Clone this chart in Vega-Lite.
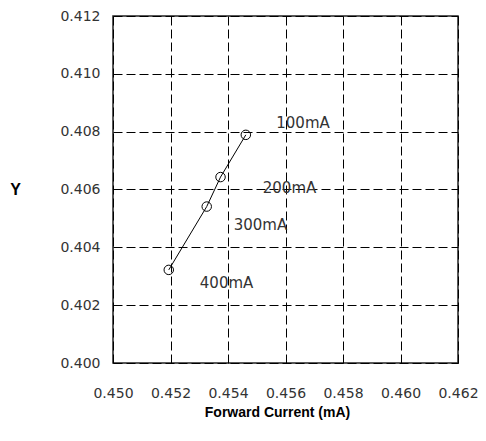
{
  "$schema": "https://vega.github.io/schema/vega-lite/v6.json",
  "width": 345,
  "height": 347,
  "autosize": {"type": "none"},
  "padding": {"left": 113, "top": 16, "right": 28, "bottom": 78},
  "background": "white",
  "config": {
    "view": {"stroke": "#222", "strokeWidth": 1.5},
    "axis": {
      "grid": true,
      "gridColor": "#000",
      "gridDash": [9, 4],
      "gridOpacity": 1,
      "gridWidth": 1,
      "domain": false,
      "ticks": false,
      "labelOverlap": false,
      "labelFlush": false,
      "labelFont": "DejaVu Sans",
      "labelFontSize": 14,
      "labelColor": "#333",
      "titleFont": "Liberation Sans",
      "titleFontWeight": "bold",
      "titleColor": "#000"
    }
  },
  "data": {
    "values": [
      {"x": 0.45462, "y": 0.40789, "label": "100mA", "lx": 0.45661, "ly": 0.4083},
      {"x": 0.45374, "y": 0.40643, "label": "200mA", "lx": 0.45614, "ly": 0.40605},
      {"x": 0.45326, "y": 0.40541, "label": "300mA", "lx": 0.45513, "ly": 0.40477},
      {"x": 0.45194, "y": 0.40322, "label": "400mA", "lx": 0.45395, "ly": 0.40277}
    ]
  },
  "encoding": {
    "x": {
      "field": "x",
      "type": "quantitative",
      "scale": {"domain": [0.45, 0.462], "nice": false, "zero": false},
      "axis": {
        "values": [0.45, 0.452, 0.454, 0.456, 0.458, 0.46, 0.462],
        "format": ".3f",
        "labelPadding": 23,
        "labelBaseline": "top",
        "title": "Forward Current (mA)",
        "titleFontSize": 14,
        "titleX": 164,
        "titleY": 49,
        "titleBaseline": "middle"
      }
    },
    "y": {
      "field": "y",
      "type": "quantitative",
      "scale": {"domain": [0.4, 0.412], "nice": false, "zero": false},
      "axis": {
        "values": [0.4, 0.402, 0.404, 0.406, 0.408, 0.41, 0.412],
        "format": ".3f",
        "labelPadding": 13,
        "title": "Y",
        "titleAngle": 0,
        "titleFontSize": 16,
        "titleX": -98,
        "titleY": 173,
        "titleAlign": "center",
        "titleBaseline": "middle"
      }
    }
  },
  "layer": [
    {"mark": {"type": "line", "color": "#000", "strokeWidth": 1}},
    {"mark": {"type": "point", "shape": "circle", "filled": false, "color": "#000", "size": 90, "strokeWidth": 1, "opacity": 1}},
    {
      "mark": {"type": "text", "font": "DejaVu Sans", "fontSize": 15, "color": "#333"},
      "encoding": {
        "x": {"field": "lx", "type": "quantitative"},
        "y": {"field": "ly", "type": "quantitative"},
        "text": {"field": "label"}
      }
    }
  ]
}
